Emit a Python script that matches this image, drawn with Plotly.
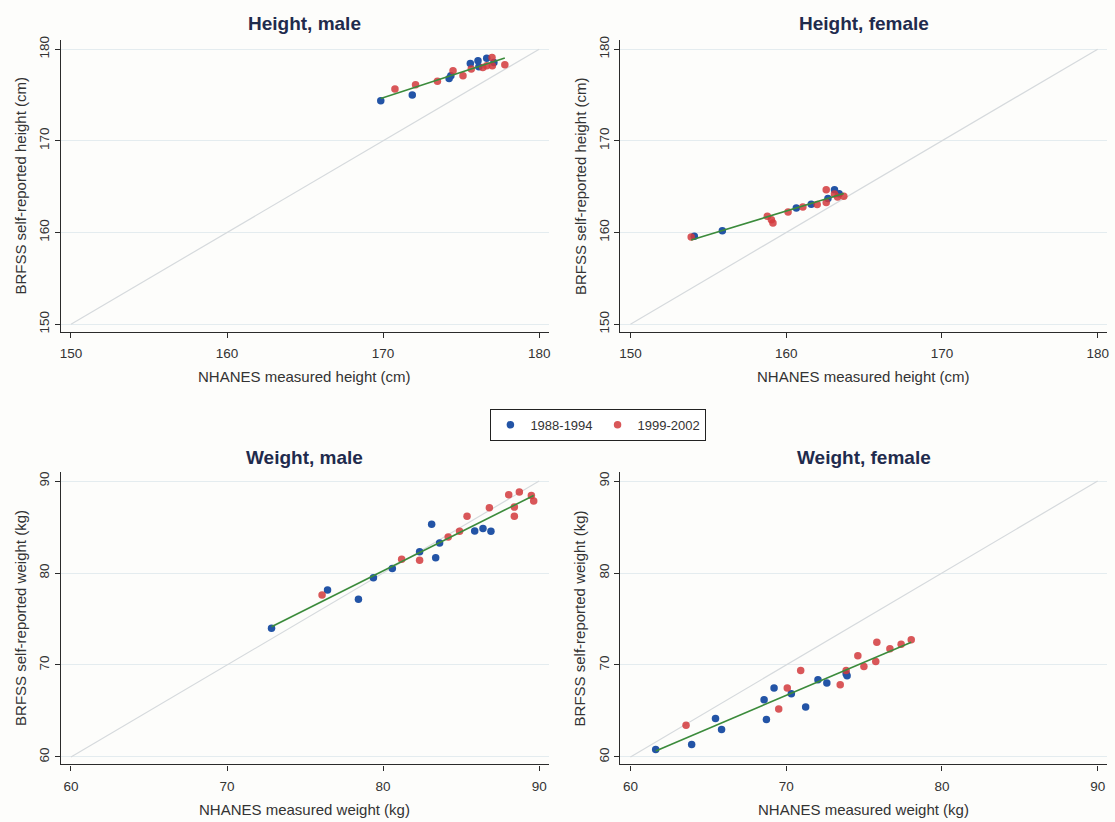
import numpy as np
import plotly.graph_objects as go

W, H = 1115, 822

# ---------------- data ----------------
series_names = ["1988-1994", "1999-2002"]
panel_titles = ["Height, male", "Height, female", "Weight, male", "Weight, female"]
x_titles = ["NHANES measured height (cm)", "NHANES measured height (cm)",
            "NHANES measured weight (kg)", "NHANES measured weight (kg)"]
y_titles = ["BRFSS self-reported height (cm)", "BRFSS self-reported height (cm)",
            "BRFSS self-reported weight (kg)", "BRFSS self-reported weight (kg)"]
height_ticks = [150, 160, 170, 180]
weight_ticks = [60, 70, 80, 90]

hm_blue_x = [169.85, 171.87, 174.23, 174.34, 175.59, 176.08, 176.14, 176.64, 177.10]
hm_blue_y = [174.38, 175.00, 176.81, 177.10, 178.44, 178.73, 178.08, 179.02, 178.55]
hm_red_x = [170.76, 172.08, 173.48, 174.48, 175.12, 175.65, 176.39, 176.64, 176.98, 177.00, 177.80]
hm_red_y = [175.65, 176.12, 176.49, 177.64, 177.10, 177.83, 178.00, 178.20, 179.10, 178.20, 178.30]

hf_blue_x = [154.10, 155.90, 160.65, 161.61, 162.68, 163.10, 163.40]
hf_blue_y = [159.60, 160.20, 162.68, 163.08, 163.70, 164.67, 164.24]
hf_red_x = [153.90, 158.79, 159.05, 159.15, 160.12, 161.07, 161.99, 162.57, 162.57, 163.30, 163.70, 163.10]
hf_red_y = [159.50, 161.77, 161.40, 161.05, 162.25, 162.78, 163.05, 163.26, 164.67, 163.88, 163.95, 164.20]

wm_blue_x = [72.85, 76.44, 78.42, 79.38, 80.59, 82.34, 83.11, 83.37, 83.62, 85.87, 86.40, 86.91]
wm_blue_y = [74.00, 78.15, 77.14, 79.48, 80.50, 82.30, 85.30, 81.65, 83.27, 84.57, 84.83, 84.54]
wm_red_x = [76.09, 81.19, 82.34, 84.17, 84.90, 85.38, 86.81, 88.05, 88.41, 88.41, 88.73, 89.50, 89.65]
wm_red_y = [77.60, 81.50, 81.40, 83.92, 84.54, 86.16, 87.10, 88.51, 87.17, 86.16, 88.80, 88.44, 87.84]

wf_blue_x = [61.62, 63.93, 65.46, 65.85, 68.58, 68.73, 69.22, 70.33, 71.25, 72.04, 72.61, 73.85, 73.91]
wf_blue_y = [60.81, 61.35, 64.17, 62.98, 66.23, 64.06, 67.50, 66.88, 65.44, 68.40, 68.04, 69.05, 68.83]
wf_red_x = [63.57, 69.52, 70.07, 70.93, 73.47, 73.85, 74.60, 74.99, 75.75, 75.82, 76.66, 77.38, 78.03]
wf_red_y = [63.45, 65.22, 67.50, 69.40, 67.85, 69.40, 71.00, 69.84, 70.38, 72.48, 71.76, 72.26, 72.73]

# ---------------- style ----------------
BLUE = "#2354a6"
RED = "#d23a3c"
GREEN = "#3b8b3b"
DIAG = "#d6dadd"
GRID = "#e4ecef"
AXIS = "#2b2b2b"
TITLE_C = "#1f2b4d"
TEXT_C = "#333333"
BG = "#fdfdfb"
FONT = "Liberation Sans, Arial, sans-serif"

panels = [
    (hm_blue_x, hm_blue_y, hm_red_x, hm_red_y, height_ticks),
    (hf_blue_x, hf_blue_y, hf_red_x, hf_red_y, height_ticks),
    (wm_blue_x, wm_blue_y, wm_red_x, wm_red_y, weight_ticks),
    (wf_blue_x, wf_blue_y, wf_red_x, wf_red_y, weight_ticks),
]

# pixel geometry of plot areas: (left, right, top, bottom)
boxes = [(60, 549, 36, 330), (621, 1109, 36, 330),
         (60, 549, 471, 766), (621, 1109, 471, 766)]
title_y = [20, 20, 457, 457]

fig = go.Figure()
layout = {}
annotations = []

for i, ((bx, by, rx, ry, ticks), (l, r, t, b)) in enumerate(zip(panels, boxes)):
    n = "" if i == 0 else str(i + 1)
    xa, ya = "x" + n, "y" + n
    lo, hi = ticks[0], ticks[-1]

    # 45-degree reference line
    fig.add_trace(go.Scatter(x=[lo, hi], y=[lo, hi], mode="lines",
                             line=dict(color=DIAG, width=1.2),
                             xaxis=xa, yaxis=ya, showlegend=False, hoverinfo="skip"))
    fig.add_trace(go.Scatter(x=bx, y=by, mode="markers", name=series_names[0],
                             marker=dict(color=BLUE, size=7.5),
                             xaxis=xa, yaxis=ya, showlegend=(i == 0), legendgroup="a"))
    fig.add_trace(go.Scatter(x=rx, y=ry, mode="markers", name=series_names[1],
                             marker=dict(color=RED, size=7.5, opacity=0.85),
                             xaxis=xa, yaxis=ya, showlegend=(i == 0), legendgroup="b"))
    # linear fit over both series
    allx = np.array(bx + rx)
    ally = np.array(by + ry)
    k, c = np.polyfit(allx, ally, 1)
    fx = np.array([allx.min(), allx.max()])
    fig.add_trace(go.Scatter(x=fx, y=k * fx + c, mode="lines",
                             line=dict(color=GREEN, width=1.6),
                             xaxis=xa, yaxis=ya, showlegend=False, hoverinfo="skip"))

    xr = [lo - 0.65, hi + 0.6]
    yr = [lo - 0.81, hi + 1.03]
    axcommon = dict(showline=True, linecolor=AXIS, linewidth=1.3, ticks="outside",
                    ticklen=5, tickcolor=AXIS, tickwidth=1.2, zeroline=False,
                    tickvals=ticks, tickfont=dict(family=FONT, size=13.5, color=TEXT_C),
                    mirror=False)
    layout["xaxis" + n] = dict(axcommon, domain=[l / W, r / W], range=xr, showgrid=False,
                               anchor=ya, ticklabelstandoff=4)
    layout["yaxis" + n] = dict(axcommon, domain=[1 - b / H, 1 - t / H], range=yr, showgrid=True,
                               gridcolor=GRID, gridwidth=1.2, tickangle=-90, anchor=xa)

    cx = (l + r) / 2 / W
    annotations.append(dict(text="<b>" + panel_titles[i] + "</b>", x=cx,
                            y=1 - title_y[i] / H,
                            xref="paper", yref="paper", showarrow=False, xanchor="center",
                            yanchor="middle",
                            font=dict(family=FONT, size=19, color=TITLE_C)))
    annotations.append(dict(text=x_titles[i], x=cx, y=1 - (b + 45) / H, xref="paper",
                            yref="paper", showarrow=False, xanchor="center", yanchor="middle",
                            font=dict(family=FONT, size=15, color=TEXT_C)))
    annotations.append(dict(text=y_titles[i], x=(l - 40) / W, y=1 - (t + b) / 2 / H,
                            xref="paper", yref="paper", showarrow=False, textangle=-90,
                            xanchor="center", yanchor="middle",
                            font=dict(family=FONT, size=15, color=TEXT_C)))

fig.update_layout(
    width=W, height=H,
    margin=dict(l=0, r=0, t=0, b=0),
    paper_bgcolor=BG, plot_bgcolor=BG,
    font=dict(family=FONT, size=13, color=TEXT_C),
    annotations=annotations,
    legend=dict(orientation="h", x=599 / W, y=1 - 424 / H, xanchor="center", yanchor="middle",
                bordercolor="#222222", borderwidth=1, bgcolor="#ffffff",
                font=dict(family=FONT, size=13, color=TEXT_C),
                itemsizing="trace", itemwidth=30, tracegroupgap=0),
    **layout,
)

fig.write_html(
    "out.html",
    config={"displayModeBar": False},
    post_script="document.body.style.margin='0';document.body.style.padding='0';"
                "document.body.style.overflow='hidden';"
                "document.documentElement.style.overflow='hidden';",
)
